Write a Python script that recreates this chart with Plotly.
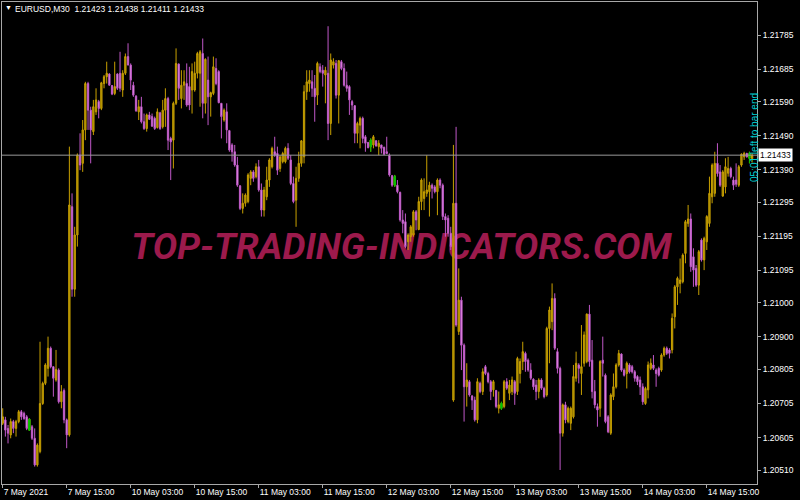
import plotly.graph_objects as go

# EURUSD M30, 7 May 2021 03:00 .. 14 May 2021 23:30, one entry per bar (bar index = x)
opens = [
    1.20647, 1.20657, 1.20632, 1.20613, 1.20652, 1.20632, 1.20652, 1.20681, 1.20676, 1.20666, 1.20627, 1.20637,
    1.20603, 1.20525, 1.20564, 1.20705, 1.20764, 1.20808, 1.20867, 1.20813, 1.20774, 1.20803, 1.20710, 1.20743,
    1.20657, 1.20613, 1.21282, 1.21040, 1.21199, 1.21433, 1.21409, 1.21507, 1.21643, 1.21565, 1.21502, 1.21560,
    1.21590, 1.21570, 1.21643, 1.21663, 1.21671, 1.21637, 1.21614, 1.21671, 1.21673, 1.21624, 1.21673, 1.21722,
    1.21697, 1.21638, 1.21606, 1.21560, 1.21575, 1.21531, 1.21511, 1.21551, 1.21546, 1.21541, 1.21514, 1.21557,
    1.21516, 1.21565, 1.21599, 1.21482, 1.21477, 1.21585, 1.21700, 1.21599, 1.21638, 1.21643, 1.21634, 1.21624,
    1.21624, 1.21673, 1.21673, 1.21731, 1.21585, 1.21653, 1.21604, 1.21614, 1.21687, 1.21678, 1.21585, 1.21536,
    1.21560, 1.21505, 1.21463, 1.21443, 1.21404, 1.21343, 1.21277, 1.21292, 1.21297, 1.21365, 1.21384, 1.21370,
    1.21399, 1.21331, 1.21272, 1.21311, 1.21360, 1.21399, 1.21443, 1.21438, 1.21394, 1.21414, 1.21414, 1.21453,
    1.21419, 1.21350, 1.21301, 1.21365, 1.21409, 1.21428, 1.21619, 1.21643, 1.21648, 1.21629, 1.21609, 1.21692,
    1.21682, 1.21668, 1.21673, 1.21526, 1.21697, 1.21702, 1.21609, 1.21707, 1.21687, 1.21638, 1.21634, 1.21590,
    1.21578, 1.21497, 1.21521, 1.21541, 1.21487, 1.21470, 1.21458, 1.21463, 1.21475, 1.21458, 1.21463, 1.21456,
    1.21443, 1.21433, 1.21373, 1.21345, 1.21345, 1.21324, 1.21243, 1.21238, 1.21179, 1.21194, 1.21199, 1.21267,
    1.21215, 1.21297, 1.21306, 1.21321, 1.21326, 1.21345, 1.21340, 1.21326, 1.21360, 1.21345, 1.21253, 1.21248,
    1.21204, 1.20715, 1.21292, 1.20916, 1.21008, 1.20876, 1.20754, 1.20769, 1.20727, 1.20715, 1.20657, 1.20764,
    1.20740, 1.20813, 1.20793, 1.20769, 1.20745, 1.20743, 1.20691, 1.20691, 1.20696, 1.20769, 1.20735, 1.20740,
    1.20769, 1.20740, 1.20793, 1.20828, 1.20852, 1.20832, 1.20803, 1.20776, 1.20759, 1.20740, 1.20774, 1.20749,
    1.20730, 1.20925, 1.20945, 1.21013, 1.20857, 1.20808, 1.20618, 1.20701, 1.20652, 1.20647, 1.20666, 1.20779,
    1.20818, 1.20793, 1.20823, 1.20828, 1.20967, 1.20832, 1.20740, 1.20696, 1.20691, 1.20832, 1.20788, 1.20666,
    1.20618, 1.20725, 1.20754, 1.20818, 1.20850, 1.20803, 1.20793, 1.20818, 1.20813, 1.20798, 1.20784, 1.20774,
    1.20754, 1.20705, 1.20745, 1.20808, 1.20818, 1.20803, 1.20808, 1.20803, 1.20847, 1.20867, 1.20862, 1.20862,
    1.20959, 1.21047, 1.21057, 1.21062, 1.21145, 1.21233, 1.21246, 1.21135, 1.21101, 1.21052, 1.21184, 1.21126,
    1.21179, 1.21233, 1.21311, 1.21321, 1.21409, 1.21384, 1.21313, 1.21340, 1.21380, 1.21394, 1.21360, 1.21360,
    1.21345, 1.21404, 1.21428, 1.21438, 1.21424, 1.21423,
]
highs = [
    1.20691, 1.20666, 1.20642, 1.20661, 1.20657, 1.20657, 1.20686, 1.20686, 1.20681, 1.20671, 1.20661, 1.20642,
    1.20632, 1.20588, 1.20886, 1.20769, 1.20823, 1.20901, 1.20872, 1.20813, 1.20862, 1.20808, 1.20759, 1.20749,
    1.20661, 1.21458, 1.21321, 1.21223, 1.21438, 1.21497, 1.21536, 1.21648, 1.21648, 1.21575, 1.21595, 1.21629,
    1.21595, 1.21648, 1.21668, 1.21707, 1.21673, 1.21638, 1.21707, 1.21673, 1.21736, 1.21682, 1.21731, 1.21761,
    1.21702, 1.21648, 1.21609, 1.21595, 1.21604, 1.21555, 1.21555, 1.21560, 1.21555, 1.21546, 1.21570, 1.21560,
    1.21595, 1.21629, 1.21604, 1.21487, 1.21590, 1.21746, 1.21702, 1.21682, 1.21682, 1.21702, 1.21692, 1.21702,
    1.21707, 1.21736, 1.21741, 1.21775, 1.21717, 1.21722, 1.21619, 1.21722, 1.21717, 1.21682, 1.21585, 1.21570,
    1.21585, 1.21507, 1.21468, 1.21463, 1.21428, 1.21345, 1.21321, 1.21321, 1.21380, 1.21389, 1.21389, 1.21409,
    1.21419, 1.21350, 1.21340, 1.21399, 1.21424, 1.21458, 1.21487, 1.21458, 1.21433, 1.21443, 1.21458, 1.21468,
    1.21433, 1.21370, 1.21399, 1.21443, 1.21477, 1.21638, 1.21682, 1.21682, 1.21682, 1.21668, 1.21707, 1.21702,
    1.21697, 1.21692, 1.21811, 1.21731, 1.21717, 1.21712, 1.21712, 1.21712, 1.21702, 1.21678, 1.21638, 1.21595,
    1.21580, 1.21531, 1.21546, 1.21546, 1.21492, 1.21472, 1.21482, 1.21492, 1.21477, 1.21477, 1.21463, 1.21458,
    1.21487, 1.21438, 1.21375, 1.21375, 1.21360, 1.21326, 1.21272, 1.21262, 1.21204, 1.21228, 1.21272, 1.21272,
    1.21311, 1.21365, 1.21365, 1.21433, 1.21355, 1.21350, 1.21345, 1.21365, 1.21365, 1.21350, 1.21262, 1.21257,
    1.21223, 1.21463, 1.21516, 1.21101, 1.21018, 1.20881, 1.20823, 1.20774, 1.20730, 1.20725, 1.20779, 1.20769,
    1.20808, 1.20818, 1.20798, 1.20774, 1.20774, 1.20745, 1.20740, 1.20710, 1.20774, 1.20779, 1.20774, 1.20784,
    1.20774, 1.20842, 1.20837, 1.20886, 1.20857, 1.20837, 1.20823, 1.20779, 1.20774, 1.20779, 1.20779, 1.20754,
    1.20930, 1.20989, 1.21057, 1.21028, 1.20867, 1.20813, 1.20705, 1.20710, 1.20696, 1.20696, 1.20818, 1.20857,
    1.20823, 1.20935, 1.20916, 1.20969, 1.20994, 1.20891, 1.20774, 1.20705, 1.20832, 1.20901, 1.20793, 1.20671,
    1.20735, 1.20793, 1.20823, 1.20862, 1.20852, 1.20808, 1.20828, 1.20823, 1.20818, 1.20803, 1.20788, 1.20784,
    1.20764, 1.20754, 1.20828, 1.20837, 1.20847, 1.20808, 1.20813, 1.20852, 1.20872, 1.20872, 1.20867, 1.20969,
    1.21052, 1.21077, 1.21130, 1.21145, 1.21243, 1.21287, 1.21262, 1.21160, 1.21111, 1.21155, 1.21189, 1.21194,
    1.21257, 1.21370, 1.21409, 1.21443, 1.21468, 1.21404, 1.21389, 1.21424, 1.21428, 1.21399, 1.21370, 1.21409,
    1.21404, 1.21438, 1.21443, 1.21440, 1.21443, 1.21438,
]
lows = [
    1.20642, 1.20608, 1.20588, 1.20603, 1.20618, 1.20608, 1.20647, 1.20657, 1.20657, 1.20627, 1.20625, 1.20598,
    1.20520, 1.20520, 1.20559, 1.20701, 1.20759, 1.20784, 1.20808, 1.20725, 1.20769, 1.20705, 1.20691, 1.20647,
    1.20574, 1.20608, 1.21018, 1.21018, 1.21165, 1.21389, 1.21384, 1.21477, 1.21507, 1.21409, 1.21492, 1.21551,
    1.21541, 1.21565, 1.21629, 1.21643, 1.21638, 1.21609, 1.21609, 1.21624, 1.21619, 1.21604, 1.21668, 1.21697,
    1.21624, 1.21604, 1.21560, 1.21536, 1.21526, 1.21507, 1.21502, 1.21536, 1.21516, 1.21507, 1.21511, 1.21507,
    1.21511, 1.21516, 1.21448, 1.21360, 1.21394, 1.21580, 1.21595, 1.21570, 1.21595, 1.21575, 1.21565, 1.21555,
    1.21619, 1.21658, 1.21575, 1.21541, 1.21555, 1.21521, 1.21546, 1.21609, 1.21638, 1.21585, 1.21482, 1.21531,
    1.21468, 1.21443, 1.21414, 1.21399, 1.21340, 1.21272, 1.21262, 1.21282, 1.21292, 1.21345, 1.21355, 1.21365,
    1.21326, 1.21253, 1.21253, 1.21301, 1.21340, 1.21394, 1.21428, 1.21375, 1.21384, 1.21409, 1.21409, 1.21419,
    1.21345, 1.21292, 1.21223, 1.21355, 1.21399, 1.21409, 1.21595, 1.21619, 1.21604, 1.21531, 1.21580, 1.21673,
    1.21634, 1.21585, 1.21477, 1.21492, 1.21687, 1.21599, 1.21526, 1.21682, 1.21634, 1.21619, 1.21551, 1.21565,
    1.21468, 1.21468, 1.21453, 1.21468, 1.21443, 1.21453, 1.21443, 1.21453, 1.21458, 1.21433, 1.21438, 1.21433,
    1.21438, 1.21370, 1.21340, 1.21340, 1.21321, 1.21238, 1.21204, 1.21160, 1.21155, 1.21179, 1.21194, 1.21213,
    1.21213, 1.21272, 1.21272, 1.21311, 1.21253, 1.21306, 1.21321, 1.21257, 1.21336, 1.21243, 1.21194, 1.21194,
    1.21155, 1.20710, 1.20930, 1.20906, 1.20803, 1.20652, 1.20696, 1.20725, 1.20686, 1.20652, 1.20647, 1.20735,
    1.20730, 1.20788, 1.20764, 1.20715, 1.20725, 1.20691, 1.20676, 1.20686, 1.20691, 1.20745, 1.20715, 1.20730,
    1.20701, 1.20730, 1.20764, 1.20803, 1.20798, 1.20798, 1.20774, 1.20745, 1.20715, 1.20720, 1.20745, 1.20720,
    1.20725, 1.20823, 1.20920, 1.20862, 1.20793, 1.20510, 1.20608, 1.20647, 1.20647, 1.20627, 1.20661, 1.20769,
    1.20764, 1.20730, 1.20813, 1.20823, 1.20813, 1.20720, 1.20691, 1.20637, 1.20666, 1.20784, 1.20647, 1.20618,
    1.20613, 1.20715, 1.20749, 1.20813, 1.20798, 1.20784, 1.20749, 1.20793, 1.20793, 1.20769, 1.20759, 1.20730,
    1.20701, 1.20701, 1.20720, 1.20803, 1.20803, 1.20754, 1.20784, 1.20798, 1.20842, 1.20847, 1.20837, 1.20852,
    1.20925, 1.20994, 1.21028, 1.21057, 1.21116, 1.21223, 1.21091, 1.21047, 1.21047, 1.21023, 1.21121, 1.21096,
    1.21155, 1.21223, 1.21292, 1.21311, 1.21370, 1.21340, 1.21311, 1.21321, 1.21370, 1.21365, 1.21331, 1.21340,
    1.21340, 1.21399, 1.21419, 1.21426, 1.21409, 1.21411,
]
closes = [
    1.20666, 1.20627, 1.20618, 1.20652, 1.20632, 1.20652, 1.20681, 1.20666, 1.20661, 1.20632, 1.20659, 1.20603,
    1.20525, 1.20583, 1.20705, 1.20764, 1.20818, 1.20867, 1.20813, 1.20779, 1.20805, 1.20710, 1.20740, 1.20657,
    1.20613, 1.21287, 1.21040, 1.21199, 1.21433, 1.21404, 1.21507, 1.21643, 1.21565, 1.21507, 1.21575, 1.21595,
    1.21570, 1.21645, 1.21663, 1.21673, 1.21638, 1.21612, 1.21634, 1.21629, 1.21629, 1.21673, 1.21722, 1.21697,
    1.21653, 1.21609, 1.21563, 1.21575, 1.21531, 1.21511, 1.21551, 1.21538, 1.21518, 1.21511, 1.21560, 1.21511,
    1.21565, 1.21599, 1.21477, 1.21472, 1.21585, 1.21702, 1.21629, 1.21638, 1.21648, 1.21580, 1.21580, 1.21678,
    1.21673, 1.21731, 1.21736, 1.21585, 1.21714, 1.21604, 1.21616, 1.21692, 1.21643, 1.21587, 1.21546, 1.21565,
    1.21507, 1.21448, 1.21443, 1.21404, 1.21345, 1.21277, 1.21292, 1.21316, 1.21375, 1.21384, 1.21365, 1.21399,
    1.21331, 1.21272, 1.21331, 1.21360, 1.21419, 1.21453, 1.21433, 1.21389, 1.21428, 1.21438, 1.21453, 1.21424,
    1.21350, 1.21297, 1.21365, 1.21409, 1.21475, 1.21619, 1.21648, 1.21653, 1.21629, 1.21604, 1.21702, 1.21678,
    1.21673, 1.21682, 1.21526, 1.21712, 1.21707, 1.21609, 1.21710, 1.21687, 1.21638, 1.21629, 1.21595, 1.21580,
    1.21497, 1.21526, 1.21541, 1.21482, 1.21468, 1.21455, 1.21477, 1.21487, 1.21460, 1.21468, 1.21453, 1.21436,
    1.21438, 1.21375, 1.21345, 1.21370, 1.21326, 1.21243, 1.21233, 1.21165, 1.21199, 1.21223, 1.21267, 1.21243,
    1.21297, 1.21360, 1.21326, 1.21331, 1.21345, 1.21336, 1.21326, 1.21360, 1.21345, 1.21253, 1.21243, 1.21204,
    1.21165, 1.21292, 1.20935, 1.21008, 1.20876, 1.20754, 1.20774, 1.20730, 1.20715, 1.20657, 1.20769, 1.20740,
    1.20798, 1.20793, 1.20769, 1.20740, 1.20769, 1.20696, 1.20701, 1.20705, 1.20769, 1.20750, 1.20759, 1.20774,
    1.20735, 1.20837, 1.20828, 1.20857, 1.20828, 1.20803, 1.20779, 1.20754, 1.20740, 1.20774, 1.20750, 1.20725,
    1.20925, 1.20979, 1.21013, 1.20867, 1.20808, 1.20618, 1.20701, 1.20657, 1.20691, 1.20691, 1.20784, 1.20823,
    1.20808, 1.20813, 1.20906, 1.20967, 1.20828, 1.20740, 1.20701, 1.20686, 1.20828, 1.20823, 1.20652, 1.20622,
    1.20730, 1.20754, 1.20818, 1.20852, 1.20803, 1.20788, 1.20823, 1.20798, 1.20798, 1.20779, 1.20769, 1.20754,
    1.20710, 1.20749, 1.20818, 1.20823, 1.20808, 1.20793, 1.20788, 1.20847, 1.20867, 1.20852, 1.20852, 1.20955,
    1.21047, 1.21072, 1.21067, 1.21140, 1.21238, 1.21246, 1.21106, 1.21096, 1.21052, 1.21150, 1.21126, 1.21189,
    1.21253, 1.21321, 1.21404, 1.21409, 1.21379, 1.21345, 1.21384, 1.21399, 1.21394, 1.21370, 1.21345, 1.21348,
    1.21399, 1.21436, 1.21438, 1.21428, 1.21438, 1.21433,
]
# bars the indicator paints green
green_bars = [10, 138, 147, 187, 280]

tick_bars = [0, 24, 48, 72, 96, 120, 144, 168, 192, 216, 240, 264]
tick_labels = ["7 May 2021", "7 May 15:00", "10 May 03:00", "10 May 15:00", "11 May 03:00",
               "11 May 15:00", "12 May 03:00", "12 May 15:00", "13 May 03:00", "13 May 15:00",
               "14 May 03:00", "14 May 15:00"]
price_ticks = [1.21785, 1.21685, 1.21590, 1.21490, 1.21390, 1.21295, 1.21195,
               1.21095, 1.21000, 1.20900, 1.20805, 1.20705, 1.20605, 1.20510]

FONT = "Liberation Sans"
FRAME = "#a8a8a8"

bars = list(range(len(closes)))

fig = go.Figure()

# watermark sits on the base axes so the candles (overlay axes) draw over it
fig.add_trace(go.Scatter(
    x=[149.5], y=[0.4855], mode="text",
    text=["TOP-TRADING-INDICATORS.COM"],
    textfont=dict(family="Roboto", size=36.5, color="#9c1a4c", weight="bold", style="italic"),
    hoverinfo="skip", showlegend=False, yaxis="y"
))

fig.add_trace(go.Candlestick(
    x=bars, open=opens, high=highs, low=lows, close=closes,
    increasing=dict(line=dict(color="#c8a000", width=1), fillcolor="#a08400"),
    decreasing=dict(line=dict(color="#c058c8", width=1), fillcolor="#f8b0f8"),
    yaxis="y2", showlegend=False, hoverinfo="skip"
))

fig.add_trace(go.Candlestick(
    x=green_bars,
    open=[opens[i] for i in green_bars], high=[highs[i] for i in green_bars],
    low=[lows[i] for i in green_bars], close=[closes[i] for i in green_bars],
    increasing=dict(line=dict(color="#00c000", width=1), fillcolor="#00c000"),
    decreasing=dict(line=dict(color="#00c000", width=1), fillcolor="#00c000"),
    yaxis="y2", showlegend=False, hoverinfo="skip"
))

last = closes[-1]

fig.add_shape(type="line", xref="paper", x0=0, x1=1, yref="y2", y0=last, y1=last,
              line=dict(color="#9a9a9a", width=1))

fig.add_annotation(xref="paper", x=1, xanchor="left", xshift=1, yref="y2", y=last,
                   text=f"{last:.5f}", showarrow=False, bgcolor="#ffffff", borderpad=1,
                   font=dict(family=FONT, size=8.5, color="#000000"))

header = "EURUSD,M30\u00a0\u00a0{:.5f} {:.5f} {:.5f} {:.5f}".format(opens[-1], highs[-1], lows[-1], closes[-1])
fig.add_annotation(xref="paper", yref="paper", x=0, y=1, xanchor="left", yanchor="top", xshift=1,
                   text="\u25bc", showarrow=False, font=dict(family=FONT, size=7, color="#ffffff"))
fig.add_annotation(xref="paper", yref="paper", x=0, y=1, xanchor="left", yanchor="top", xshift=11,
                   text=header, showarrow=False, font=dict(family=FONT, size=8.5, color="#ffffff"))

fig.add_annotation(xref="paper", yref="paper", x=0.9967, y=0.719, xanchor="center", yanchor="middle",
                   textangle=-90, text="05:01 left to bar end", showarrow=False,
                   font=dict(family=FONT, size=10, color="#00ced1"))

fig.update_layout(
    width=800, height=500,
    margin=dict(l=2, r=43, t=2, b=16),
    paper_bgcolor="#000000", plot_bgcolor="#000000",
    font=dict(family=FONT, size=8.5, color="#ffffff"),
    hovermode=False, showlegend=False,
    xaxis=dict(
        range=[-0.26, 282.83], tickvals=tick_bars, ticktext=tick_labels,
        ticks="outside", ticklen=3, tickcolor=FRAME, ticklabelposition="outside right",
        showgrid=False, zeroline=False, showline=True, mirror=True, linecolor=FRAME,
        rangeslider=dict(visible=False), fixedrange=True
    ),
    yaxis=dict(
        range=[0, 1], showticklabels=False, ticks="", showgrid=False, zeroline=False,
        showline=True, mirror=True, linecolor=FRAME, fixedrange=True
    ),
    yaxis2=dict(
        overlaying="y", side="right", range=[1.20469, 1.21882],
        tickvals=price_ticks, ticktext=[f"{p:.5f}" for p in price_ticks],
        ticks="outside", ticklen=3, tickcolor=FRAME,
        showgrid=False, zeroline=False, showline=False, fixedrange=True
    ),
)

# the page's default body margin would push the 800x500 figure off the window
fig.write_html("out.html", config={"displayModeBar": False},
               post_script="document.body.style.margin='0';")
